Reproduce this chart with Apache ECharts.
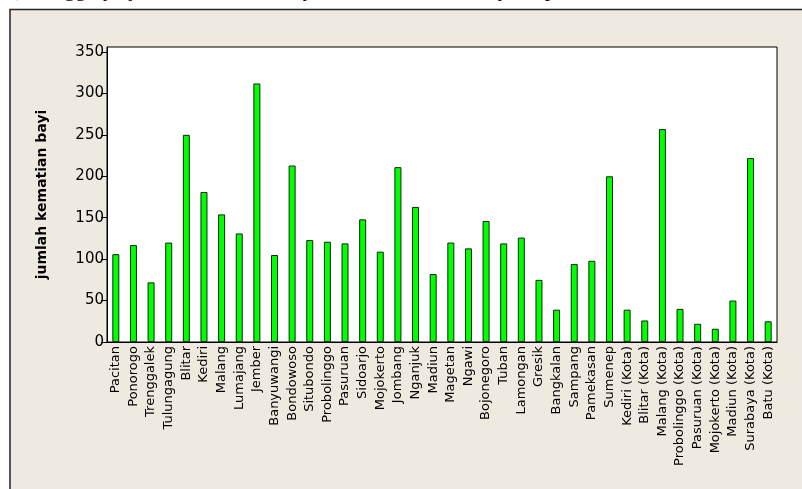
<!DOCTYPE html>
<html>
<head>
<meta charset="utf-8">
<script src="https://cdn.jsdelivr.net/npm/echarts@6/dist/echarts.min.js"></script>
<style>
html, body { margin: 0; padding: 0; background: #fff; }
#chart { width: 802px; height: 489px; }
</style>
</head>
<body>
<div id="chart"></div>
<script>
// kabupaten / kota
var categories = ['Pacitan', 'Ponorogo', 'Trenggalek', 'Tulungagung', 'Blitar', 'Kediri', 'Malang',
	'Lumajang', 'Jember', 'Banyuwangi', 'Bondowoso', 'Situbondo', 'Probolinggo', 'Pasuruan',
	'Sidoarjo', 'Mojokerto', 'Jombang', 'Nganjuk', 'Madiun', 'Magetan', 'Ngawi', 'Bojonegoro',
	'Tuban', 'Lamongan', 'Gresik', 'Bangkalan', 'Sampang', 'Pamekasan', 'Sumenep',
	'Kediri (Kota)', 'Blitar (Kota)', 'Malang (Kota)', 'Probolinggo (Kota)', 'Pasuruan (Kota)',
	'Mojokerto (Kota)', 'Madiun (Kota)', 'Surabaya (Kota)', 'Batu (Kota)'];

var kematianBayi = [106, 117, 72, 120, 250, 181, 154, 131, 312, 105, 213, 123, 121, 119,
	148, 109, 211, 163, 82, 120, 113, 146, 119, 126, 75, 39, 94, 98, 200,
	39, 26, 257, 40, 22, 16, 50, 222, 25];

var yTicks = [0, 50, 100, 150, 200, 250, 300, 350];

var chart = echarts.init(document.getElementById('chart'));

chart.setOption({
	animation: false,
	backgroundColor: '#ffffff',
	graphic: [
		{
			type: 'rect',
			z: -10,
			shape: { x: 10, y: 9.5, width: 900, height: 600 },
			style: { fill: '#EEEAE0', stroke: '#222', lineWidth: 1.5 }
		},
		{
			// line of page text above the figure, cut off
			type: 'text',
			left: 0,
			top: -21,
			style: {
				text: 'ta), Tingginya jumlah kematian bayi tersebut salah satunya dapat',
				font: '22px "Liberation Serif"',
				fill: '#000'
			}
		}
	],
	grid: {
		left: 107,
		top: 47,
		width: 670,
		height: 295,
		show: true,
		backgroundColor: '#ffffff',
		borderColor: '#000',
		borderWidth: 1
	},
	xAxis: {
		type: 'category',
		data: categories,
		axisLine: { lineStyle: { color: '#000', width: 1 } },
		axisTick: { alignWithLabel: true, length: 5, lineStyle: { color: '#000' } },
		axisLabel: {
			interval: 0,
			rotate: 90,
			margin: 4,
			fontFamily: 'DejaVu Sans',
			fontSize: 13,
			color: '#000'
		}
	},
	yAxis: {
		type: 'value',
		min: 0,
		max: 356,
		name: 'jumlah kematian bayi',
		nameLocation: 'middle',
		nameGap: 58,
		nameTextStyle: {
			fontFamily: 'DejaVu Sans',
			fontWeight: 'bold',
			fontSize: 14,
			color: '#000'
		},
		axisLine: { show: true, lineStyle: { color: '#000', width: 1 } },
		axisTick: { show: true, length: 6, customValues: yTicks, lineStyle: { color: '#000' } },
		splitLine: { show: false },
		axisLabel: {
			margin: 3,
			customValues: yTicks,
			fontFamily: 'DejaVu Sans',
			fontSize: 15,
			color: '#000'
		}
	},
	series: [{
		type: 'bar',
		data: kematianBayi,
		barWidth: 7,
		itemStyle: {
			color: '#00FF00',
			borderColor: '#102810',
			borderWidth: 1
		}
	}]
});
</script>
</body>
</html>
